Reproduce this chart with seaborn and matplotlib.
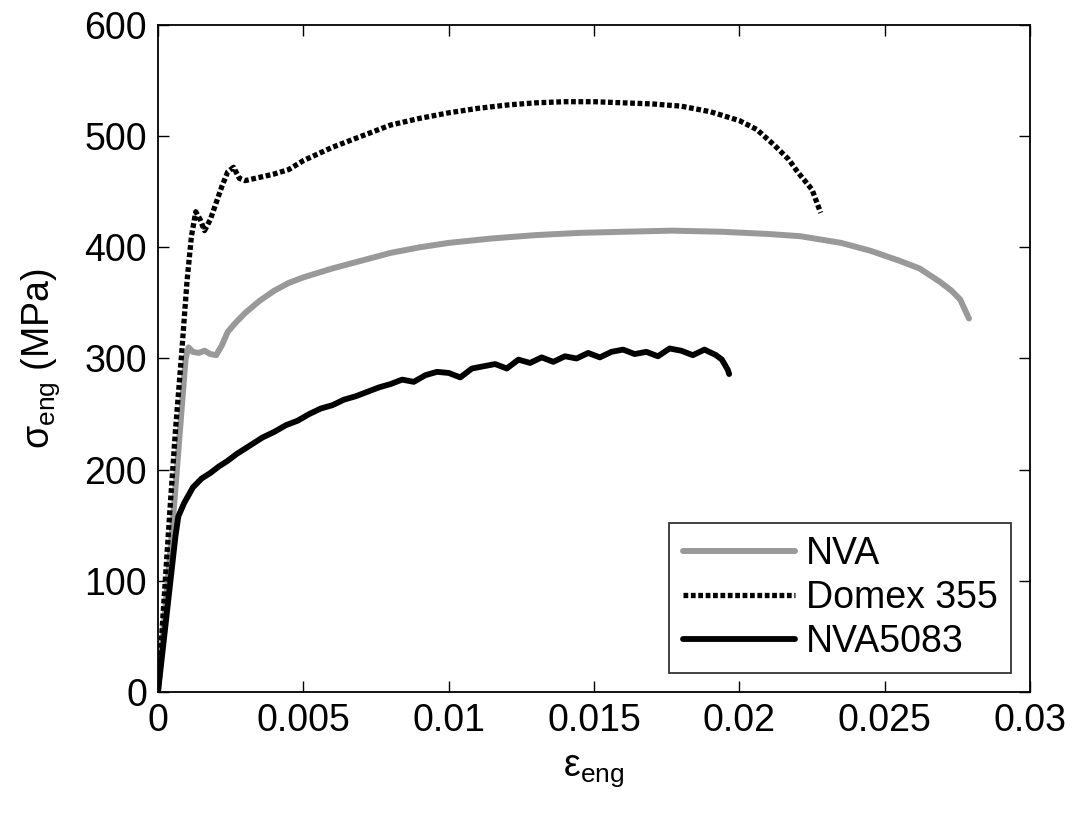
import numpy as np
import pandas as pd
import matplotlib
matplotlib.use("Agg")
import matplotlib.pyplot as plt
import seaborn as sns

# ---- data ----
nva_eps = [0, 0.0005, 0.00095, 0.00105, 0.0012, 0.0014, 0.0016, 0.0018, 0.0020, 0.0022,
           0.0024, 0.0027, 0.0030, 0.0035, 0.0040, 0.0045, 0.0050, 0.0060, 0.0070, 0.0080,
           0.0090, 0.0100, 0.0115, 0.0130, 0.0145, 0.0160, 0.0177, 0.0194, 0.0210, 0.0221,
           0.0235, 0.0245, 0.0255, 0.0262, 0.0269, 0.0273, 0.0276, 0.0279]
nva_sig = [0, 150, 300, 310, 306, 305, 307, 304, 303, 312,
           324, 333, 341, 352, 361, 368, 373, 381, 388, 395,
           400, 404, 408, 411, 413, 414, 415, 414, 412, 410,
           404, 397, 388, 381, 369, 361, 353, 336]

domex_eps = [0, 0.0002, 0.0004, 0.0006, 0.0008, 0.0010, 0.00115, 0.0013, 0.00145, 0.0016,
             0.0018, 0.0020, 0.0022, 0.0024, 0.0026, 0.0028, 0.0030, 0.0035, 0.0040, 0.0045,
             0.0050, 0.0060, 0.0070, 0.0080, 0.0090, 0.0100, 0.0110, 0.0120, 0.0130, 0.0140,
             0.0150, 0.0160, 0.0170, 0.0180, 0.0190, 0.0200, 0.0206, 0.0212, 0.0217, 0.0220,
             0.0225, 0.0228]
domex_sig = [0, 80, 160, 235, 300, 370, 410, 432, 425, 415,
             425, 440, 455, 468, 472, 462, 460, 463, 466, 470,
             478, 490, 500, 510, 516, 521, 525, 528, 530, 531,
             531, 530, 529, 527, 522, 514, 506, 492, 479, 468,
             452, 431]

al_eps = [0, 0.0003, 0.0006, 0.0007, 0.0009, 0.0012, 0.0015, 0.0018, 0.0021, 0.0024,
          0.0027, 0.0030, 0.0033, 0.0036, 0.0040, 0.0044, 0.0048, 0.0052, 0.0056, 0.0060,
          0.0064, 0.0068, 0.0072, 0.0076, 0.0080, 0.0084, 0.0088, 0.0092, 0.0096, 0.0100,
          0.0104, 0.0108, 0.0112, 0.0116, 0.0120, 0.0124, 0.0128, 0.0132, 0.0136, 0.0140,
          0.0144, 0.0148, 0.0152, 0.0156, 0.0160, 0.0164, 0.0168, 0.0172, 0.0176, 0.0180,
          0.0184, 0.0188, 0.0192, 0.0194, 0.0196, 0.01965]
al_sig = [0, 70, 140, 158, 170, 184, 192, 197, 203, 208,
          214, 219, 224, 229, 234, 240, 244, 250, 255, 258,
          263, 266, 270, 274, 277, 281, 279, 285, 288, 287,
          283, 291, 293, 295, 291, 299, 296, 301, 297, 302,
          300, 305, 301, 306, 308, 304, 306, 302, 309, 307,
          303, 308, 303, 299, 290, 286]

x_ticks = [0, 0.005, 0.01, 0.015, 0.02, 0.025, 0.03]
x_ticklabels = ["0", "0.005", "0.01", "0.015", "0.02", "0.025", "0.03"]
y_ticks = [0, 100, 200, 300, 400, 500, 600]

# ---- style ----
sns.set_style("white")
plt.rcParams['font.family'] = ['Liberation Sans', 'DejaVu Sans']
plt.rcParams['mathtext.fontset'] = 'custom'
plt.rcParams['mathtext.rm'] = 'Liberation Sans'
plt.rcParams['mathtext.it'] = 'Liberation Sans'
plt.rcParams['mathtext.default'] = 'regular'
plt.rcParams['text.color'] = 'black'
plt.rcParams['axes.labelcolor'] = 'black'

fig = plt.figure(figsize=(10.73, 8.13), dpi=100)
ax = fig.add_axes([158/1073, 1-692/813, (1030-158)/1073, (692-25)/813])

df_nva = pd.DataFrame({"eps": nva_eps, "sig": nva_sig})
df_domex = pd.DataFrame({"eps": domex_eps, "sig": domex_sig})
df_al = pd.DataFrame({"eps": al_eps, "sig": al_sig})

sns.lineplot(data=df_nva, x="eps", y="sig", ax=ax, color="#999999", lw=4.3,
             label="NVA", sort=False, estimator=None)
sns.lineplot(data=df_domex, x="eps", y="sig", ax=ax, color="black", lw=3.8,
             label="Domex 355", sort=False, estimator=None)
sns.lineplot(data=df_al, x="eps", y="sig", ax=ax, color="black", lw=4.2,
             label="NVA5083", sort=False, estimator=None)
ax.lines[1].set_dashes((0.9, 0.5))

ax.set_xlim(0, 0.03)
ax.set_ylim(0, 600)
ax.set_xticks(x_ticks)
ax.set_xticklabels(x_ticklabels)
ax.set_yticks(y_ticks)
ax.tick_params(direction="in", length=8, width=1, labelsize=27, top=True, right=True,
               bottom=True, left=True, pad=8, colors="black")
for s in ax.spines.values():
    s.set_visible(True)
    s.set_color("black")
    s.set_linewidth(1.3)

ax.set_xlabel("ε$_{eng}$", fontsize=27, labelpad=10, color="black")
ax.set_ylabel("σ$_{eng}$ (MPa)", fontsize=27, labelpad=16, color="black")

leg = ax.legend(loc="lower right", fontsize=27, frameon=True, fancybox=False,
                edgecolor="black", handlelength=3.0, handletextpad=0.3,
                borderpad=0.35, labelspacing=0.22, borderaxespad=0.5)
leg.get_frame().set_linewidth(1.3)
for t in leg.get_texts():
    t.set_color("black")

fig.savefig("out.png", dpi=100, facecolor="white")
